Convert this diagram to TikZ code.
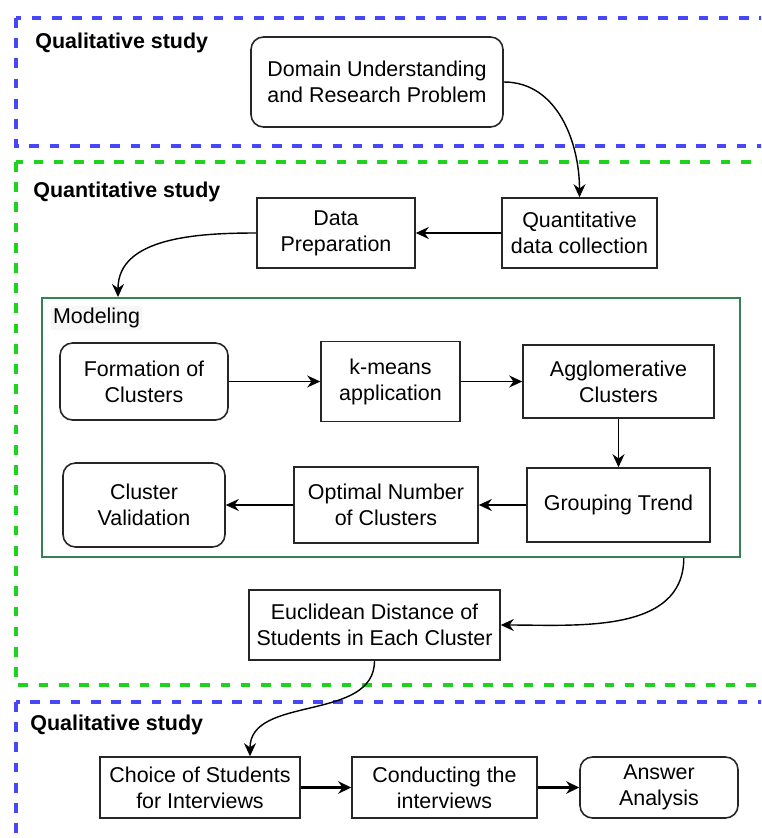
\documentclass[tikz,border=0pt]{standalone}
\usepackage{fontspec}
\setmainfont{Liberation Sans}
\usetikzlibrary{arrows.meta}

\definecolor{blueregion}{RGB}{70,70,250}
\definecolor{greenregion}{RGB}{30,210,30}
\definecolor{modgreen}{RGB}{50,130,85}

\begin{document}
\begin{tikzpicture}[x=0.2mm, y=-0.2mm,
  font=\fontsize{12.2}{14.8}\selectfont,
  stage/.style ={draw=black!85, line width=0.9pt, align=center, inner sep=2pt},
  roundstage/.style ={stage, rounded corners=2.5mm},
  region/.style ={line width=2.1pt, dash pattern=on 5.5pt off 6pt},
  title/.style ={anchor=west, inner sep=0pt, font=\fontsize{12.2}{14.8}\selectfont\bfseries},
  flow/.style ={-{Stealth[length=2.6mm, width=2.4mm]}, line width=0.8pt},
  boldflow/.style ={-{Stealth[length=2.6mm, width=2.5mm]}, line width=1.5pt}]
 \path[use as bounding box, clip] (0,0) rectangle (761,838);
 % study regions
 \draw[region, blueregion] (16,18) rectangle (800,146);
 \draw[region, greenregion] (16,162) rectangle (800,685);
 \draw[region, blueregion] (16,702) rectangle (800,900);
 \node[title] (qual1) at (35,43) {Qualitative study};
 \node[title] (quant) at (33,192) {Quantitative study};
 \node[title] (qual2) at (30,725) {Qualitative study};
 % first stages
 \node[roundstage, minimum width=5.04cm, minimum height=1.8cm] (domain) at (377,82) {Domain Understanding\\and Research Problem};
 \node[stage, minimum width=3.1cm, minimum height=1.4cm] (qdc) at (579.5,233) {Quantitative\\data collection};
 \node[stage, minimum width=3.16cm, minimum height=1.4cm] (dprep) at (336,233) {Data\\Preparation};
 % modeling
 \node[draw=modgreen, line width=0.9pt, minimum width=13.96cm, minimum height=5.18cm] (modeling) at (391,427.5) {};
 \node[anchor=west, fill=gray!6, inner sep=1pt] (modlabel) at (51,318) {Modeling};
 \coordinate (modtop) at (118,297);
 \node[roundstage, minimum width=3.36cm, minimum height=1.54cm] (form) at (144,381.5) {Formation of\\Clusters};
 \node[stage, minimum width=2.78cm, minimum height=1.6cm] (kmeans) at (390.5,381.5) {k-means\\application};
 \node[stage, minimum width=3.82cm, minimum height=1.46cm] (agglo) at (618.5,381.5) {Agglomerative\\Clusters};
 \node[stage, minimum width=3.66cm, minimum height=1.48cm] (group) at (618.5,505) {Grouping Trend};
 \node[stage, minimum width=3.68cm, minimum height=1.52cm] (optim) at (386,505) {Optimal Number\\of Clusters};
 \node[roundstage, minimum width=3.24cm, minimum height=1.68cm] (cval) at (144,505) {Cluster\\Validation};
 % later stages
 \node[stage, minimum width=5.02cm, minimum height=1.4cm] (eucl) at (374.5,625) {Euclidean Distance of\\Students in Each Cluster};
 \node[stage, minimum width=4cm, minimum height=1.22cm] (choice) at (200,787.5) {Choice of Students\\for Interviews};
 \node[stage, minimum width=3.7cm, minimum height=1.22cm] (conduct) at (444.5,787.5) {Conducting the\\interviews};
 \node[roundstage, minimum width=3.16cm, minimum height=1.22cm] (answer) at (659,787.5) {Answer\\Analysis};
 % connectors
 \draw[flow] (domain.east) to[out=0, in=90] (qdc.north);
 \draw[flow] (qdc) -- (dprep);
 \draw[flow] (dprep.west) to[out=180, in=90] (modtop);
 \draw[flow] (form) -- (kmeans);
 \draw[flow] (kmeans) -- (agglo);
 \draw[flow] (agglo) -- (group);
 \draw[flow] (group) -- (optim);
 \draw[flow] (optim) -- (cval);
 \draw[flow] ([xshift=-1.14cm]modeling.south east) to[out=-90, in=0] (eucl.east);
 \draw[flow] (eucl.south) to[out=-90, in=90] ([xshift=1cm]choice.north);
 \draw[boldflow] (choice) -- (conduct);
 \draw[boldflow] (conduct) -- (answer);
\end{tikzpicture}
\end{document}
